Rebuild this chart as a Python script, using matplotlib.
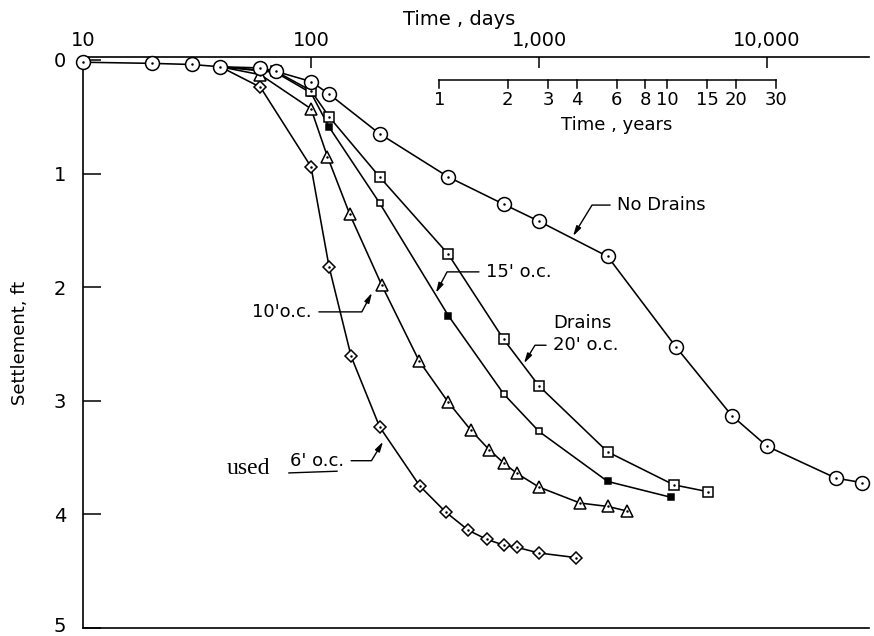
import matplotlib
matplotlib.use('Agg')
import matplotlib.pyplot as plt
import matplotlib.transforms as mtransforms
from matplotlib.ticker import NullLocator

# ---------------- data ----------------
common_days = [10, 20, 30, 40]
common_ft = [0.02, 0.03, 0.04, 0.06]

nodrain_days = [60, 70, 100, 120, 200, 400, 700, 1000, 2000, 4000, 7000, 10000, 20000, 26000]
nodrain_ft = [0.07, 0.10, 0.19, 0.30, 0.65, 1.03, 1.27, 1.42, 1.73, 2.53, 3.13, 3.40, 3.68, 3.72]

d20_days = [70, 100, 120, 200, 400, 700, 1000, 2000, 3900, 5500]
d20_ft = [0.10, 0.27, 0.50, 1.03, 1.71, 2.46, 2.87, 3.45, 3.74, 3.80]

d15_days = [70, 100, 120, 200, 400, 700, 1000, 2000, 3800]
d15_ft = [0.11, 0.29, 0.59, 1.26, 2.25, 2.94, 3.27, 3.71, 3.85]
d15_filled = [False, False, True, False, True, False, False, True, True]

d10_days = [60, 100, 118, 148, 204, 298, 399, 503, 604, 702, 801, 1000, 1513, 2000, 2430]
d10_ft = [0.13, 0.43, 0.85, 1.36, 1.98, 2.65, 3.01, 3.26, 3.43, 3.55, 3.64, 3.76, 3.90, 3.93, 3.97]

d6_days = [60, 100, 120, 150, 200, 300, 390, 490, 590, 700, 800, 1000, 1450]
d6_ft = [0.24, 0.94, 1.82, 2.61, 3.23, 3.75, 3.98, 4.14, 4.22, 4.27, 4.29, 4.34, 4.38]

day_ticks = [10, 100, 1000, 10000]
day_labels = ['10', '100', '1,000', '10,000']
year_ticks = [1, 2, 3, 4, 6, 8, 10, 15, 20, 30]
ft_ticks = [0, 1, 2, 3, 4, 5]

# ---------------- figure ----------------
plt.rcParams['font.family'] = ['DejaVu Sans']
fig = plt.figure(figsize=(8.74, 6.36), dpi=100)
ax = fig.add_axes([83 / 874, 1 - 628 / 636, (869 - 83) / 874, (628 - 57) / 636])
ax.set_xscale('log')
ax.set_xlim(10, 28000)
ax.set_ylim(5, -0.026)

lw = 1.15
last_common = (common_days[-1], common_ft[-1])

def series(days, ft, marker, ms, filled=None):
    xs = [last_common[0]] + list(days)
    ys = [last_common[1]] + list(ft)
    ax.plot(xs, ys, '-', color='k', lw=lw, zorder=2)
    if filled is None:
        ax.plot(days, ft, linestyle='none', marker=marker, ms=ms, mfc='white',
                mec='k', mew=1.1, zorder=3)
        ax.plot(days, ft, linestyle='none', marker='.', ms=1.6, color='k', zorder=4)
    else:
        for d, f, fl in zip(days, ft, filled):
            ax.plot([d], [f], linestyle='none', marker=marker, ms=ms,
                    mfc='k' if fl else 'white', mec='k', mew=1.1, zorder=3)

# common early part + no drains
ax.plot(common_days + nodrain_days, common_ft + nodrain_ft, '-', color='k', lw=lw, zorder=2)
series(d6_days, d6_ft, 'D', 6.5)
series(d10_days, d10_ft, '^', 8)
series(d15_days, d15_ft, 's', 5, filled=d15_filled)
series(d20_days, d20_ft, 's', 7.5)
ax.plot(common_days + nodrain_days, common_ft + nodrain_ft, linestyle='none', marker='o',
        ms=10, mfc='white', mec='k', mew=1.1, zorder=5, clip_on=False)
ax.plot(common_days + nodrain_days, common_ft + nodrain_ft, linestyle='none', marker='.',
        ms=1.6, color='k', zorder=6, clip_on=False)

# ---------------- axes styling ----------------
for s in ['top', 'left', 'bottom']:
    ax.spines[s].set_linewidth(1.2)
ax.spines['right'].set_visible(False)

ax.xaxis.tick_top()
ax.set_xticks(day_ticks)
ax.set_xticklabels(day_labels)
ax.xaxis.set_minor_locator(NullLocator())
ax.tick_params(axis='x', which='major', direction='in', length=8, width=1.1,
               pad=5, labelsize=14, top=True, bottom=False)

ax.set_yticks(ft_ticks)
ax.set_yticklabels([str(t) for t in ft_ticks])
ax.tick_params(axis='y', which='major', direction='in', length=13, width=1.1,
               pad=12, labelsize=14, right=False)
# keep the bottom label inside the picture
last_lab = ax.get_yticklabels()[-1]
last_lab.set_transform(last_lab.get_transform() +
                       mtransforms.ScaledTranslation(0, 4 / 100, fig.dpi_scale_trans))
ax.set_ylabel('Settlement, ft', fontsize=13, labelpad=18)

ax.text(0.478, 1.065, 'Time , days', transform=ax.transAxes, ha='center',
        va='center', fontsize=14)

# ---------------- inset years scale ----------------
trans = mtransforms.blended_transform_factory(ax.transData, ax.transAxes)
y_line = 1 - (80 - 57) / 571
t_len = 8 / 571
yr_days = [y * 365 for y in year_ticks]
ax.plot([yr_days[0], yr_days[-1]], [y_line, y_line], transform=trans, color='k',
        lw=1.1, clip_on=False, zorder=2)
for d, y in zip(yr_days, year_ticks):
    ax.plot([d, d], [y_line, y_line - t_len], transform=trans, color='k', lw=1.1,
            clip_on=False, zorder=2)
    ax.text(d, 1 - (100 - 57) / 571, str(y), transform=trans, ha='center',
            va='center', fontsize=13)
ax.text(2200, 1 - (125 - 57) / 571, 'Time , years', transform=trans, ha='center',
        va='center', fontsize=13)

# ---------------- annotations ----------------
def leader(text, tip, dx, dy, angB, ha):
    ax.annotate(text, xy=tip, xytext=(dx, dy), textcoords='offset points',
                ha=ha, va='center', fontsize=13,
                arrowprops=dict(arrowstyle='-|>,head_length=0.45,head_width=0.12',
                                color='k', lw=1.0, shrinkA=3, shrinkB=0,
                                connectionstyle='angle,angleA=0,angleB=%g,rad=0' % angB))

leader('No Drains', (1410, 1.55), 31.7, 22.3, 58.5, 'left')
leader("15' o.c.", (353, 2.05), 36, 15.1, 62, 'left')
leader("20' o.c.", (859, 2.67), 20.9, 13, 58.6, 'left')
leader("10'o.c.", (185, 2.05), -43.2, -13.7, 62, 'right')
leader("6' o.c.", (207, 3.36), -28, -13.7, 58.6, 'right')

ax.text(1151, 2.315, 'Drains', ha='left', va='center', fontsize=13)
ax.text(42.8, 3.60, 'used', ha='left', va='center', fontsize=17,
        family=['Liberation Serif', 'DejaVu Serif'])
ax.plot([80, 130], [3.635, 3.62], color='k', lw=1.0)

fig.savefig('out.png', dpi=100)
